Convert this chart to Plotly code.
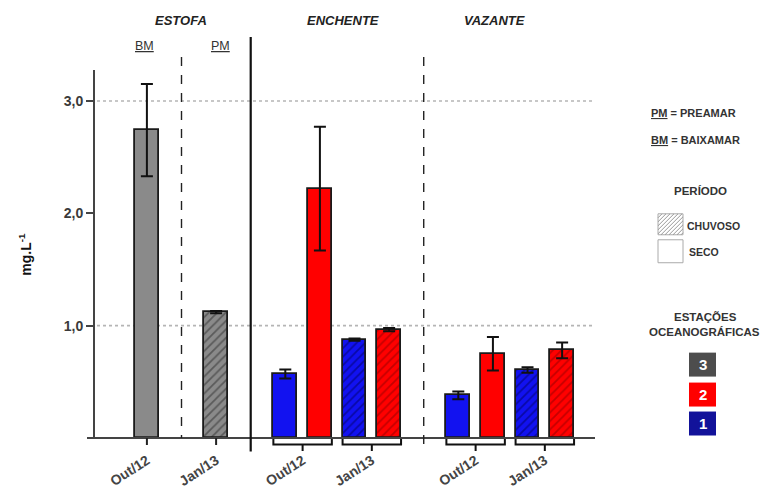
import plotly.graph_objects as go

# ---------------- data ----------------
fase = ["ESTOFA", "ESTOFA", "ENCHENTE", "ENCHENTE", "ENCHENTE", "ENCHENTE",
        "VAZANTE", "VAZANTE", "VAZANTE", "VAZANTE"]
mes = ["Out/12", "Jan/13", "Out/12", "Out/12", "Jan/13", "Jan/13",
       "Out/12", "Out/12", "Jan/13", "Jan/13"]
estacao = [3, 3, 1, 2, 1, 2, 1, 2, 1, 2]
periodo = ["SECO", "CHUVOSO", "SECO", "SECO", "CHUVOSO", "CHUVOSO",
           "SECO", "SECO", "CHUVOSO", "CHUVOSO"]
valores = [2.74, 1.12, 0.57, 2.22, 0.875, 0.965, 0.38, 0.75, 0.605, 0.78]
erros = [0.41, 0.01, 0.04, 0.55, 0.01, 0.015, 0.035, 0.15, 0.025, 0.07]
y_ticks = [1, 2, 3]
y_ticktext = ["1,0", "2,0", "3,0"]

# ---------------- layout helpers ----------------
OFF = 8  # page body margin
W, H = 770 - OFF, 486 - OFF
L, R, T, B = 95, 595, 70, 438.5   # plot area in reference pixel coords
XMAX = 14.45
YMAX = (B - T) / 112.5

group_center = {("ESTOFA", "Out/12"): 1.5, ("ESTOFA", "Jan/13"): 3.5,
                ("ENCHENTE", "Out/12"): 6, ("ENCHENTE", "Jan/13"): 8,
                ("VAZANTE", "Out/12"): 11, ("VAZANTE", "Jan/13"): 13}
station_offset = {3: 0.0, 1: -0.5, 2: 0.5}
BW = 0.69


def px(x):
    return (x - L) / (R - L)


def py(y):
    return (B - y) / (B - T)


def dx(v):
    return v / XMAX


fill = {3: "#8a8a8a", 2: "#ff0000", 1: "#1212f0"}
hatch = {3: "#2a2a2a", 2: "#8a0000", 1: "#00005a"}

fig = go.Figure()
for f, m, s, p, v, e in zip(fase, mes, estacao, periodo, valores, erros):
    xpos = group_center[(f, m)] + station_offset[s]
    pattern = dict(shape="/", fgcolor=hatch[s], bgcolor=fill[s], size=6, solidity=0.3) \
        if p == "CHUVOSO" else dict(shape="")
    fig.add_trace(go.Bar(
        x=[xpos], y=[v], width=BW,
        marker=dict(color=fill[s], line=dict(color="#1a1a1a", width=1.8), pattern=pattern),
        error_y=dict(type="data", array=[e], color="#111", thickness=2, width=6),
        showlegend=False, hoverinfo="skip"))

shapes = []
shapes.append(dict(type="line", xref="paper", yref="paper", x0=px(87), x1=1.0, y0=0, y1=0,
                   line=dict(color="#444", width=2)))
for g in [1, 3]:
    shapes.append(dict(type="line", xref="paper", yref="y", x0=0.004, x1=0.996, y0=g, y1=g,
                       line=dict(color="#b5b5b5", width=1.6, dash="dot"), layer="below"))
for c in [1.5, 3.5]:
    shapes.append(dict(type="line", xref="paper", yref="paper", x0=dx(c), x1=dx(c),
                       y0=0, y1=py(B + 7), line=dict(color="#222", width=2)))
for c in [6, 8, 11, 13]:
    xa, xb = dx(c - 0.5 - BW / 2), dx(c + 0.5 + BW / 2)
    yb = py(B + 6.5)
    path = (f"M {xa} {py(B + 1)} L {xa} {yb} L {xb} {yb} L {xb} {py(B + 1)} "
            f"M {dx(c)} {yb} L {dx(c)} {py(B + 13)}")
    shapes.append(dict(type="path", xref="paper", yref="paper", path=path,
                       line=dict(color="#111", width=2)))
shapes.append(dict(type="line", xref="paper", yref="paper", x0=dx(2.5), x1=dx(2.5),
                   y0=py(57), y1=0, line=dict(color="#222", width=1.4, dash="dash")))
shapes.append(dict(type="line", xref="paper", yref="paper", x0=dx(4.5), x1=dx(4.5),
                   y0=py(37), y1=py(452), line=dict(color="#111", width=2.2)))
shapes.append(dict(type="line", xref="paper", yref="paper", x0=dx(9.5), x1=dx(9.5),
                   y0=py(57), y1=py(447), line=dict(color="#222", width=1.4, dash="dash")))

sx0, sy0, sx1, sy1 = 658, 214, 683, 235
shapes.append(dict(type="rect", xref="paper", yref="paper", x0=px(sx0), x1=px(sx1),
                   y0=py(sy1), y1=py(sy0), line=dict(color="#aaa", width=1), fillcolor="white"))
segs = []
step = 4
c = sx0 + sy0 + step
while c < sx1 + sy1:
    xs = max(sx0, c - sy1)
    xe = min(sx1, c - sy0)
    if xe > xs:
        segs.append(f"M {px(xs)} {py(c - xs)} L {px(xe)} {py(c - xe)}")
    c += step
shapes.append(dict(type="path", xref="paper", yref="paper", path=" ".join(segs),
                   line=dict(color="#999", width=1)))
shapes.append(dict(type="rect", xref="paper", yref="paper", x0=px(658), x1=px(683),
                   y0=py(263), y1=py(240), line=dict(color="#aaa", width=1), fillcolor="white"))
box_col = {3: "#4d4d4d", 2: "#ff0000", 1: "#12129a"}
box_y = {3: 353, 2: 383, 1: 412}
for s in [3, 2, 1]:
    shapes.append(dict(type="rect", xref="paper", yref="paper", x0=px(689), x1=px(716),
                       y0=py(box_y[s] + 24), y1=py(box_y[s]), line=dict(width=0),
                       fillcolor=box_col[s]))

FONT = "Liberation Sans, Arial, sans-serif"
NARROW = "Liberation Sans Narrow, Arial Narrow, Liberation Sans, Arial, sans-serif"
ann = []


def add_text(text, x, y, size=11, color="#333", xanchor="center", family=FONT, weight="bold", **kw):
    ann.append(dict(text=text, x=px(x), y=py(y), xref="paper", yref="paper", showarrow=False,
                    xanchor=xanchor, yanchor="middle",
                    font=dict(size=size, color=color, family=family, weight=weight), **kw))


add_text("<i>ESTOFA</i>", 181, 20, size=13, color="#222", family=NARROW)
add_text("<i>ENCHENTE</i>", 343, 20, size=13, color="#222", family=NARROW)
add_text("<i>VAZANTE</i>", 494, 20, size=13, color="#222", family=NARROW)
add_text("<u>BM</u>", 144, 46, size=12.5, color="#333", family=NARROW, weight="normal")
add_text("<u>PM</u>", 220, 46, size=12.5, color="#333", family=NARROW, weight="normal")
add_text("<u>PM</u> = PREAMAR", 649, 113, size=11, xanchor="left")
add_text("<u>BM</u> = BAIXAMAR", 649, 140, size=11, xanchor="left")
add_text("PERÍODO", 700, 191, size=11.5)
add_text("CHUVOSO", 685, 226, size=10.5, xanchor="left", family=NARROW)
add_text("SECO", 687, 252, size=10.5, xanchor="left", family=NARROW)
add_text("ESTAÇÕES", 705, 317, size=11.5)
add_text("OCEANOGRÁFICAS", 704, 332, size=11.5)
for s in [3, 2, 1]:
    add_text(str(s), 702.5, box_y[s] + 12, size=15, color="white")
add_text("mg.L<sup>-1</sup>", 25, 255, size=14, color="#111", textangle=-90)

tick_x = [1.5, 3.5, 6, 8, 11, 13]
tick_lbl = ["Out/12", "Jan/13", "Out/12", "Jan/13", "Out/12", "Jan/13"]

fig.update_layout(
    width=W, height=H,
    margin=dict(l=L - OFF, r=770 - R, t=T - OFF, b=486 - B, autoexpand=False),
    paper_bgcolor="white", plot_bgcolor="white",
    bargap=0,
    xaxis=dict(range=[0, XMAX], showgrid=False, zeroline=False, showline=False,
               tickmode="array", tickvals=tick_x, ticktext=tick_lbl, tickangle=-33,
               ticks="outside", ticklen=8, tickcolor="rgba(0,0,0,0)", automargin=False,
               tickfont=dict(size=14, color="#444", family=FONT, weight="bold")),
    yaxis=dict(range=[0, YMAX], showgrid=False, zeroline=False, showline=True,
               linecolor="#444", linewidth=2, ticks="outside", ticklen=7, tickwidth=2,
               tickcolor="#444", tickmode="array", tickvals=y_ticks, ticktext=y_ticktext,
               automargin=False,
               tickfont=dict(size=14, color="#3a3a3a", family=FONT, weight="bold")),
    shapes=shapes, annotations=ann,
)

fig.write_html("out.html")
